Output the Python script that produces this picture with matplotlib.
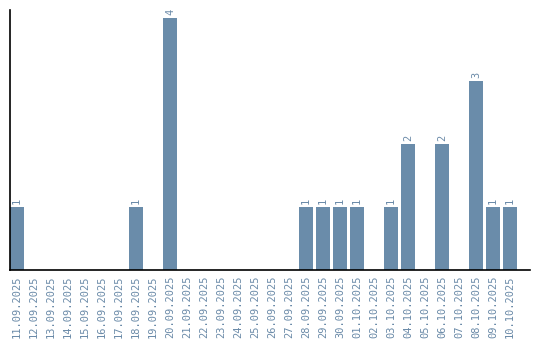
import matplotlib
matplotlib.use('Agg')
import matplotlib.pyplot as plt

dates = ['11.09.2025', '12.09.2025', '13.09.2025', '14.09.2025', '15.09.2025',
         '16.09.2025', '17.09.2025', '18.09.2025', '19.09.2025', '20.09.2025',
         '21.09.2025', '22.09.2025', '23.09.2025', '24.09.2025', '25.09.2025',
         '26.09.2025', '27.09.2025', '28.09.2025', '29.09.2025', '30.09.2025',
         '01.10.2025', '02.10.2025', '03.10.2025', '04.10.2025', '05.10.2025',
         '06.10.2025', '07.10.2025', '08.10.2025', '09.10.2025', '10.10.2025']
counts = [1, 0, 0, 0, 0, 0, 0, 1, 0, 4,
          0, 0, 0, 0, 0, 0, 0, 1, 1, 1,
          1, 0, 1, 2, 0, 2, 0, 3, 1, 1]

bar_color = '#6a8caa'
text_color = '#6a8aa8'

fig = plt.figure(figsize=(5.4, 3.4), dpi=100)
ax = fig.add_axes([10/540, 70/340, 520/540, 260/340])

x = list(range(len(dates)))
ax.bar(x, counts, width=0.82, color=bar_color)

# value labels above non-empty bars
for xi, c in zip(x, counts):
    if c > 0:
        ax.annotate(str(c), (xi, c), xytext=(0, 2), textcoords='offset points',
                    rotation=90, ha='center', va='bottom',
                    fontsize=7.5, family='DejaVu Sans Mono', color=text_color)

ax.set_xlim(-0.41, 30.18)
ax.set_ylim(0, 4.13)
ax.set_xticks(x)
ax.set_xticklabels(dates, rotation=90, fontsize=7.5, family='DejaVu Sans Mono',
                   color=text_color)
ax.tick_params(axis='x', length=0, pad=4)
ax.set_yticks([])
ax.spines['top'].set_visible(False)
ax.spines['right'].set_visible(False)
ax.spines['left'].set_linewidth(1.2)
ax.spines['bottom'].set_linewidth(1.2)

fig.savefig('out.png', dpi=100)
